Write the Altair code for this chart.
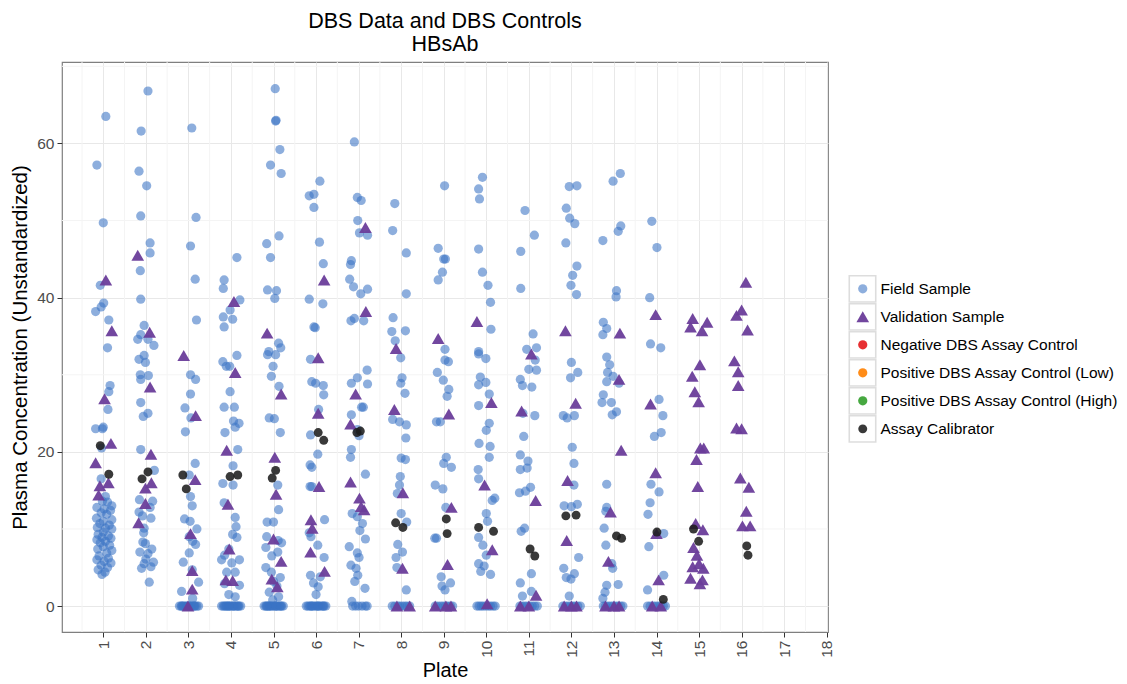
import altair as alt
import pandas as pd

FONT = "Liberation Sans"

TYPES = [
    "Field Sample",
    "Validation Sample",
    "Negative DBS Assay Control",
    "Positive DBS Assay Control (Low)",
    "Positive DBS Assay Control (High)",
    "Assay Calibrator",
]
COLORS = ["#3A74C4", "#6A3D9A", "#E41A1C", "#FF7F00", "#33A02C", "#1E1E1E"]
SHAPES = ["circle", "triangle-up", "circle", "circle", "circle", "circle"]
SIZES = [85, 160, 85, 85, 85, 80]
OPACITY = [0.58, 0.95, 0.9, 0.9, 0.9, 0.88]

PLATE_TICKS = list(range(1, 19))
MINOR_X = [i + 0.5 for i in range(0, 18)]
MINOR_Y = [10, 30, 50, 70]

# Field samples: (jittered plate position, plasma concentration)
field_p01 = [(1.06, 63.5), (0.85, 57.2), (1.00, 49.7), (0.93, 41.6), (1.01, 39.3), (0.95, 38.8),
             (0.82, 38.2), (1.13, 37.1), (1.10, 33.5), (1.16, 28.6), (1.13, 27.8), (1.11, 25.5),
             (0.82, 23.0), (1.00, 23.2), (0.98, 23.0), (0.96, 20.5), (0.95, 16.5),
             (1.05, 14.2), (0.98, 13.6), (1.10, 13.5), (1.20, 13.0), (0.85, 12.8), (1.02, 12.6),
             (1.17, 12.4), (0.95, 12.1), (1.08, 11.9), (0.84, 11.4), (1.20, 11.2), (1.00, 11.0),
             (0.92, 10.7), (1.14, 10.5), (0.86, 10.2), (1.05, 10.1), (1.20, 10.0), (1.00, 9.6),
             (0.88, 9.3), (1.12, 9.1), (0.97, 8.9), (1.18, 8.8), (0.85, 8.6), (1.05, 8.4),
             (0.93, 8.2), (1.15, 7.9), (1.00, 7.7), (0.87, 7.4), (1.20, 7.2), (1.08, 6.9),
             (0.90, 6.5), (1.12, 6.2), (0.85, 6.0), (1.02, 5.8), (1.18, 5.6), (0.95, 5.3),
             (1.10, 5.0), (0.88, 4.7), (1.04, 4.4), (0.97, 4.1)]
field_p02 = [(2.05, 66.8), (1.89, 61.6), (1.84, 56.4), (2.02, 54.5), (1.88, 50.6), (2.10, 47.1),
             (2.10, 45.8), (1.87, 43.5), (1.88, 39.8), (1.96, 36.4), (1.88, 35.2), (1.81, 34.6),
             (2.05, 34.6), (2.19, 33.8), (1.84, 32.0), (1.96, 32.5), (1.99, 31.6), (1.87, 30.0),
             (2.06, 29.9), (1.88, 29.4), (1.88, 26.4), (2.05, 25.0), (1.94, 24.6), (1.88, 20.3),
             (2.20, 17.6), (1.85, 13.8), (2.16, 13.6), (2.10, 12.8), (1.84, 12.2), (1.92, 11.7),
             (2.12, 11.4), (1.96, 10.1), (1.95, 9.5), (1.93, 8.3), (1.99, 8.1), (2.14, 7.4),
             (1.86, 7.0), (2.05, 6.8), (2.00, 6.1), (2.18, 5.7), (1.96, 5.5), (2.12, 5.1),
             (1.90, 4.9), (2.08, 3.1)]
field_p03 = [(3.08, 62.0), (3.18, 50.4), (3.05, 46.7), (3.16, 42.4), (3.19, 37.1), (3.05, 30.0),
             (3.17, 29.4), (3.05, 27.5), (2.92, 25.7), (3.06, 24.4), (2.93, 22.6), (3.16, 18.5),
             (3.02, 17.0), (3.05, 14.2), (3.09, 13.0), (2.91, 11.3), (3.04, 11.0), (3.20, 10.0),
             (3.02, 9.0), (3.10, 8.4), (3.17, 8.0), (3.02, 6.9), (2.88, 5.7), (3.09, 4.7),
             (3.24, 3.1), (2.84, 1.9), (3.10, 1.0)]
field_p04 = [(4.14, 45.2), (3.84, 42.3), (3.82, 41.2), (4.21, 39.7), (3.98, 38.4), (3.82, 37.5),
             (4.04, 37.2), (3.84, 36.2), (4.14, 32.5), (3.81, 31.7), (3.89, 31.1), (3.97, 31.1),
             (3.98, 27.8), (3.84, 25.8), (4.08, 25.8), (4.06, 24.0), (4.19, 23.7), (3.86, 22.5),
             (4.10, 23.2), (4.16, 20.3), (4.05, 18.2), (3.81, 15.9), (4.05, 15.7), (3.84, 13.4),
             (4.10, 11.5), (4.12, 10.3), (4.04, 9.3), (4.14, 8.9), (3.95, 7.4), (3.85, 6.6),
             (3.78, 6.0), (4.02, 5.6), (4.20, 6.0), (3.90, 4.4), (4.10, 4.4), (3.85, 2.9),
             (4.20, 2.7), (3.95, 1.5), (4.10, 1.2)]
field_p05 = [(5.04, 67.1), (5.05, 62.9), (5.06, 63.0), (5.15, 59.2), (4.93, 57.2), (5.18, 56.1),
             (5.13, 48.0), (4.84, 47.0), (4.93, 45.2), (4.86, 41.0), (5.07, 40.9), (5.03, 39.9),
             (5.12, 34.1), (5.17, 33.5), (4.89, 33.0), (4.86, 32.6), (5.05, 32.6), (4.99, 31.1),
             (4.95, 29.8), (5.13, 28.5), (4.90, 24.4), (5.02, 24.3), (5.16, 22.5), (5.10, 15.7),
             (5.12, 12.5), (4.85, 10.9), (5.00, 10.9), (4.84, 9.0), (5.11, 8.5), (5.19, 8.2),
             (4.82, 7.6), (5.10, 7.0), (4.96, 6.5), (4.82, 5.0), (4.95, 4.4), (5.16, 3.7),
             (5.00, 3.2), (5.08, 2.6), (4.90, 1.8), (5.12, 1.2), (4.98, 0.8)]
field_p06 = [(6.09, 55.1), (5.84, 53.2), (5.95, 53.4), (5.95, 51.7), (6.08, 47.2), (6.17, 44.4),
             (5.84, 39.8), (6.16, 39.2), (5.95, 36.2), (5.98, 36.1), (5.87, 32.0), (5.90, 29.1),
             (5.99, 28.9), (6.17, 28.6), (6.18, 27.4), (6.06, 25.5), (5.87, 22.2), (6.04, 19.7),
             (5.86, 18.3), (5.90, 18.0), (5.86, 15.5), (5.90, 15.5), (6.20, 11.2), (5.84, 9.5),
             (5.88, 9.0), (6.04, 7.9), (6.19, 6.3), (5.87, 4.0), (6.10, 3.8), (5.94, 3.0),
             (6.05, 2.5), (6.00, 1.5)]
field_p07 = [(6.90, 60.2), (6.97, 53.0), (7.06, 52.6), (6.98, 50.0), (7.02, 48.4), (7.21, 48.1),
             (6.83, 44.8), (6.81, 44.3), (6.79, 42.4), (6.88, 41.4), (7.21, 41.1), (7.05, 40.5),
             (6.90, 37.3), (6.82, 37.0), (7.12, 37.0), (6.97, 29.6), (7.20, 30.6), (7.21, 28.8),
             (6.83, 28.9), (7.11, 25.8), (7.07, 25.8), (6.83, 24.8), (6.97, 22.9), (7.01, 22.1),
             (6.83, 20.3), (6.81, 19.3), (7.16, 17.1), (6.85, 12.0), (6.97, 11.6), (7.09, 10.7),
             (7.03, 9.8), (7.16, 8.7), (6.78, 7.7), (6.97, 6.9), (7.01, 6.3), (6.82, 5.3),
             (6.94, 4.9), (6.98, 4.0), (6.91, 3.2), (7.15, 2.3), (6.84, 0.6)]
field_p08 = [(7.85, 52.2), (7.80, 48.7), (8.12, 45.8), (8.12, 40.5), (7.81, 37.4), (7.78, 35.6),
             (8.10, 35.7), (7.86, 34.4), (7.99, 32.2), (8.02, 29.6), (7.99, 28.9), (8.09, 27.6),
             (7.80, 24.2), (7.96, 23.9), (8.12, 23.5), (8.11, 21.8), (8.00, 19.2), (8.10, 19.0),
             (7.98, 16.8), (7.96, 15.7), (7.91, 14.6), (8.00, 12.0), (8.13, 10.9), (7.92, 8.0),
             (8.03, 7.0), (7.88, 6.3), (7.90, 5.0), (8.12, 2.1)]
field_p09 = [(9.02, 54.5), (8.87, 46.4), (9.04, 45.0), (9.00, 45.0), (8.97, 43.3), (8.87, 42.3),
             (9.03, 33.3), (9.03, 31.9), (9.11, 31.7), (8.85, 30.3), (8.99, 29.3), (9.12, 28.1),
             (9.08, 27.2), (8.83, 23.9), (8.92, 23.9), (9.06, 19.3), (9.00, 18.5), (9.18, 18.0),
             (8.80, 15.7), (8.98, 15.2), (9.05, 12.8), (8.79, 8.8), (8.83, 8.8), (8.94, 3.8),
             (9.16, 3.0), (8.96, 2.6), (9.03, 2.1)]
field_p10 = [(9.91, 55.6), (9.82, 54.1), (9.84, 52.8), (9.82, 46.3), (9.91, 43.3), (10.04, 41.6),
             (10.10, 39.4), (10.11, 35.9), (9.82, 33.0), (9.82, 32.7), (9.99, 32.1), (9.86, 29.7),
             (9.82, 28.7), (9.99, 29.0), (10.07, 27.5), (9.82, 26.0), (10.07, 23.7), (10.00, 22.8),
             (9.83, 21.1), (10.09, 20.7), (10.07, 19.3), (9.81, 17.7), (9.82, 16.5), (10.20, 14.0),
             (10.14, 13.7), (10.00, 12.0), (10.03, 11.0), (9.82, 8.9), (9.92, 7.9), (10.00, 6.6),
             (9.82, 5.5), (9.95, 5.2), (9.87, 4.5), (10.10, 4.1)]
field_p11 = [(10.91, 51.3), (11.13, 48.1), (10.81, 46.0), (10.81, 41.2), (11.10, 35.3), (10.95, 33.3),
             (11.18, 33.5), (11.15, 31.9), (11.00, 30.7), (11.18, 30.6), (10.80, 29.4), (10.85, 28.6),
             (11.07, 28.4), (10.86, 25.0), (11.14, 24.7), (10.88, 22.0), (10.80, 19.6), (10.98, 18.8),
             (10.96, 17.9), (10.80, 17.7), (11.04, 15.4), (10.92, 14.9), (10.78, 14.7), (10.90, 10.1),
             (10.82, 9.7), (11.06, 4.2), (10.80, 3.0), (11.06, 1.9), (10.85, 1.3)]
field_p12 = [(11.95, 54.4), (12.13, 54.5), (11.88, 51.6), (11.96, 50.3), (12.08, 49.6), (11.87, 47.1),
             (12.13, 44.1), (12.03, 42.9), (11.99, 41.6), (12.12, 40.4), (12.00, 31.6), (12.15, 30.3),
             (11.98, 29.6), (11.81, 24.7), (11.90, 24.4), (12.07, 24.7), (12.02, 20.6), (12.06, 18.5),
             (12.06, 15.7), (11.83, 13.0), (12.00, 12.9), (12.14, 13.2), (12.17, 6.3), (11.82, 4.9),
             (11.88, 3.7), (11.99, 3.5), (12.07, 4.2), (11.95, 1.3)]
field_p13 = [(13.15, 56.1), (12.98, 55.1), (13.16, 49.3), (13.10, 48.6), (12.74, 47.4), (13.06, 40.9),
             (13.05, 40.1), (12.75, 36.8), (12.83, 36.0), (12.74, 35.2), (12.83, 32.3), (12.90, 31.3),
             (12.85, 30.3), (12.98, 29.8), (12.83, 29.1), (13.12, 28.9), (12.75, 27.4), (12.72, 26.4),
             (12.94, 26.4), (13.06, 25.2), (12.96, 24.8), (12.83, 15.8), (12.83, 12.8), (12.81, 12.3),
             (12.77, 10.1), (12.81, 7.9), (12.95, 5.5), (12.97, 4.9), (12.83, 2.7), (13.10, 2.8),
             (12.79, 1.8), (12.74, 1.0)]
field_p14 = [(13.89, 49.9), (14.01, 46.5), (13.84, 40.0), (13.86, 34.0), (14.10, 33.5), (14.06, 26.8),
             (14.15, 24.7), (14.11, 22.5), (13.95, 22.0), (13.87, 15.8), (14.06, 14.8), (13.85, 13.4),
             (13.80, 11.9), (13.82, 7.7), (14.17, 9.4), (14.17, 4.0), (13.79, 2.1)]

# Field samples below the detection limit, reported as 0 (plate positions only)
zero_p03 = [2.79, 2.83, 2.87, 2.90, 2.94, 2.97, 3.01, 3.05, 3.08, 3.12, 3.16, 3.20, 3.24, 2.85, 3.00, 3.14]
zero_p04 = [3.78, 3.82, 3.85, 3.90, 3.93, 3.97, 4.00, 4.04, 4.08, 4.12, 4.15, 4.19, 4.23, 3.88, 4.06, 4.17, 3.95]
zero_p05 = [4.78, 4.82, 4.86, 4.89, 4.93, 4.97, 5.00, 5.04, 5.08, 5.11, 5.15, 5.19, 5.23, 4.91, 5.06, 4.84, 5.17]
zero_p06 = [5.77, 5.81, 5.85, 5.88, 5.92, 5.96, 6.00, 6.03, 6.07, 6.11, 6.15, 6.19, 6.23, 5.90, 6.05, 6.17]
zero_p07 = [6.86, 6.93, 7.00, 7.08, 7.16, 7.20]
zero_p08 = [7.79, 7.85, 7.92, 7.97, 8.03, 8.09, 8.14, 8.20]
zero_p09 = [8.80, 8.86, 8.93, 8.99, 9.05, 9.10, 9.16, 9.21]
zero_p10 = [9.78, 9.83, 9.88, 9.93, 9.99, 10.05, 10.10, 10.16, 10.21]
zero_p11 = [10.79, 10.84, 10.90, 10.96, 11.02, 11.08, 11.14, 11.20]
zero_p12 = [11.80, 11.86, 11.92, 11.98, 12.03, 12.09, 12.15, 12.21]
zero_p13 = [12.75, 12.80, 12.86, 12.92, 12.98, 13.04, 13.10, 13.16, 13.21]
zero_p14 = [13.79, 13.85, 13.92, 13.98, 14.04, 14.10, 14.16, 14.21]

# Validation samples
valid_p01 = [(1.06, 42.3), (1.20, 35.7), (1.03, 26.9), (1.18, 21.1), (0.82, 18.6), (1.12, 16.0), (0.92, 15.6), (0.89, 14.4)]
valid_p02 = [(1.81, 45.5), (2.09, 35.5), (2.10, 28.4), (2.12, 19.7), (2.13, 16.0), (1.99, 15.3), (1.99, 13.3), (1.83, 10.8)]
valid_p03 = [(2.89, 32.5), (3.17, 24.7), (3.16, 16.4), (3.05, 9.4), (3.09, 4.6), (3.09, 2.2), (2.99, 0.0)]
valid_p04 = [(4.07, 39.5), (4.10, 30.3), (3.90, 20.2), (3.93, 13.2), (3.96, 7.4), (3.88, 3.4), (4.04, 3.3)]
valid_p05 = [(4.85, 35.4), (5.18, 27.5), (5.03, 19.3), (5.06, 14.5), (5.00, 8.7), (5.18, 5.8), (4.96, 3.5), (5.09, 2.5)]
valid_p06 = [(6.19, 42.3), (6.05, 32.2), (6.05, 25.0), (6.07, 15.5), (5.88, 11.2), (5.91, 10.1), (5.87, 7.0), (6.20, 4.5)]
valid_p07 = [(7.16, 49.1), (7.17, 38.2), (6.93, 27.5), (6.81, 23.6), (6.81, 16.1), (7.02, 14.0), (7.06, 12.9), (7.13, 12.5)]
valid_p08 = [(7.88, 33.4), (7.84, 25.5), (8.04, 14.7), (8.03, 4.9), (7.90, 0.0), (8.20, 0.0)]
valid_p09 = [(8.87, 34.7), (9.12, 24.9), (9.18, 12.8), (9.09, 5.4), (8.80, 0.0), (9.05, 0.0), (9.17, 0.0)]
valid_p10 = [(9.78, 36.9), (10.12, 26.4), (9.96, 15.7), (10.14, 7.3), (10.02, 0.3)]
valid_p11 = [(11.06, 32.7), (10.83, 25.3), (11.16, 13.7), (11.17, 1.4), (10.80, 0.0), (11.00, 0.0)]
valid_p12 = [(11.86, 35.7), (12.10, 26.3), (11.91, 16.3), (11.89, 8.5), (11.83, 0.0), (12.00, 0.0), (12.12, 0.0)]
valid_p13 = [(13.14, 35.4), (13.12, 29.4), (13.17, 20.2), (12.92, 12.2), (12.87, 5.8), (12.80, 0.0), (13.00, 0.0), (13.12, 0.0)]
valid_p14 = [(13.98, 37.8), (13.86, 26.2), (13.98, 17.3), (14.00, 9.4), (14.05, 3.4), (13.90, 0.0), (14.10, 0.0)]
valid_p15 = [(14.85, 37.3), (14.80, 36.2), (15.19, 36.8), (15.07, 35.7), (15.02, 31.3), (14.84, 29.8),
             (14.90, 27.8), (14.99, 26.5), (15.11, 20.5), (15.03, 20.5), (14.94, 19.0), (14.97, 15.5),
             (14.92, 10.7), (15.09, 9.9), (14.87, 7.6), (14.95, 6.6), (15.00, 5.5), (14.85, 5.1),
             (15.10, 4.9), (14.80, 3.6), (15.08, 3.4), (15.02, 2.9)]
valid_p16 = [(16.10, 42.0), (16.00, 38.4), (15.88, 37.7), (16.14, 35.8), (15.83, 31.8), (15.92, 30.4),
             (15.92, 28.6), (15.88, 23.1), (16.00, 23.0), (15.97, 16.6), (16.17, 15.4), (16.11, 12.3),
             (16.02, 10.4), (16.20, 10.4)]

# Assay calibrators, two per plate
calib = [(0.93, 20.8), (1.13, 17.1), (2.05, 17.4), (1.91, 16.5), (2.87, 17.0), (2.95, 15.2),
         (3.98, 16.8), (4.16, 17.0), (5.05, 17.6), (4.97, 16.6), (6.05, 22.5), (6.18, 21.5),
         (7.04, 22.7), (6.96, 22.5), (7.87, 10.8), (8.04, 10.2), (9.06, 11.3), (9.08, 9.4),
         (9.82, 10.2), (10.17, 9.7), (11.03, 7.4), (11.14, 6.5), (11.87, 11.7), (12.11, 11.8),
         (13.06, 9.1), (13.18, 8.8), (14.01, 9.6), (14.16, 0.87), (14.87, 10.0), (14.99, 8.4),
         (16.12, 7.8), (16.15, 6.6)]

field_lists = [field_p01, field_p02, field_p03, field_p04, field_p05, field_p06, field_p07,
               field_p08, field_p09, field_p10, field_p11, field_p12, field_p13, field_p14]
zero_lists = [zero_p03, zero_p04, zero_p05, zero_p06, zero_p07, zero_p08, zero_p09,
              zero_p10, zero_p11, zero_p12, zero_p13, zero_p14]
valid_lists = [valid_p01, valid_p02, valid_p03, valid_p04, valid_p05, valid_p06, valid_p07, valid_p08,
               valid_p09, valid_p10, valid_p11, valid_p12, valid_p13, valid_p14, valid_p15, valid_p16]

rows = []
for pts in field_lists:
    rows += [{"plate": x, "conc": y, "kind": TYPES[0]} for x, y in pts]
for xs in zero_lists:
    rows += [{"plate": x, "conc": 0.0, "kind": TYPES[0]} for x in xs]
for pts in valid_lists:
    rows += [{"plate": x, "conc": y, "kind": TYPES[1]} for x, y in pts]
rows += [{"plate": x, "conc": y, "kind": TYPES[5]} for x, y in calib]
df = pd.DataFrame(rows)
df["key"] = df["kind"].map({t: i + 1 for i, t in enumerate(TYPES)})

x_scale = alt.Scale(domain=[0.03, 18.03], nice=False, zero=False)
y_scale = alt.Scale(domain=[-3.36, 70.56], nice=False, zero=False)

x_axis = alt.Axis(values=PLATE_TICKS, labelAngle=-90, labelFontSize=15.5, labelColor="#4D4D4D",
                  tickColor="#333333", tickSize=5, domain=False, gridColor="#E8E8E8",
                  titleFontSize=20, titleFontWeight="normal", titleColor="black",
                  labelPadding=3, titlePadding=3, labelBaseline="middle")
y_axis = alt.Axis(values=[0, 20, 40, 60], format="d", labelFontSize=15.5, labelColor="#4D4D4D",
                  tickColor="#333333", tickSize=5, domain=False, gridColor="#E8E8E8",
                  titleFontSize=20.5, titleFontWeight="normal", titleColor="black",
                  labelPadding=3, titlePadding=6)
X_TITLE = "Plate"
Y_TITLE = "Plasma Concentration (Unstandardized)"

minor_v = alt.Chart(pd.DataFrame({"v": MINOR_X})).mark_rule(color="#F4F4F4", strokeWidth=1).encode(
    x=alt.X("v:Q", scale=x_scale, axis=x_axis, title=X_TITLE))
minor_h = alt.Chart(pd.DataFrame({"v": MINOR_Y})).mark_rule(color="#F4F4F4", strokeWidth=1).encode(
    y=alt.Y("v:Q", scale=y_scale, axis=y_axis, title=Y_TITLE))

main_legend = alt.Legend(orient="none", legendX=786, legendY=213, labelFontSize=15.5, labelColor="black",
                         labelFont=FONT, labelLimit=400, clipHeight=27.7, rowPadding=0, padding=0,
                         symbolOffset=7, labelOffset=10)
box_legend = alt.Legend(orient="none", legendX=786, legendY=213, symbolType="square", symbolSize=700,
                        symbolFillColor="transparent", symbolStrokeColor="#CFCFCF",
                        labelExpr="''", clipHeight=27.7, rowPadding=0, padding=0)

points = alt.Chart(df).mark_point(filled=True).encode(
    x=alt.X("plate:Q", scale=x_scale, axis=x_axis, title=X_TITLE),
    y=alt.Y("conc:Q", scale=y_scale, axis=y_axis, title=Y_TITLE),
    color=alt.Color("kind:N", scale=alt.Scale(domain=TYPES, range=COLORS), legend=main_legend, title=None),
    shape=alt.Shape("kind:N", scale=alt.Scale(domain=TYPES, range=SHAPES), legend=main_legend, title=None),
    size=alt.Size("kind:N", scale=alt.Scale(type="ordinal", domain=TYPES, range=SIZES),
                  legend=main_legend, title=None),
    opacity=alt.Opacity("kind:N", scale=alt.Scale(type="ordinal", domain=TYPES, range=OPACITY),
                        legend=main_legend, title=None),
    strokeWidth=alt.StrokeWidth("key:O", scale=alt.Scale(type="ordinal", domain=[1, 2, 3, 4, 5, 6],
                                                          range=[1.6] * 6),
                                legend=box_legend, title=None),
)

chart = alt.layer(minor_v, minor_h, points).properties(
    width=766,
    height=570,
    title=alt.TitleParams(["DBS Data and DBS Controls", "HBsAb"], fontSize=21.5, font=FONT,
                          fontWeight="normal", anchor="middle", offset=6, lineHeight=23.5, color="black"),
    autosize=alt.AutoSizeParams(type="none"),
    padding={"left": 62, "top": 62, "right": 299, "bottom": 52},
).configure(font=FONT).configure_view(stroke="#7F7F7F", strokeWidth=1.2)

chart.save("out.html", embed_options={"renderer": "svg", "actions": False})
